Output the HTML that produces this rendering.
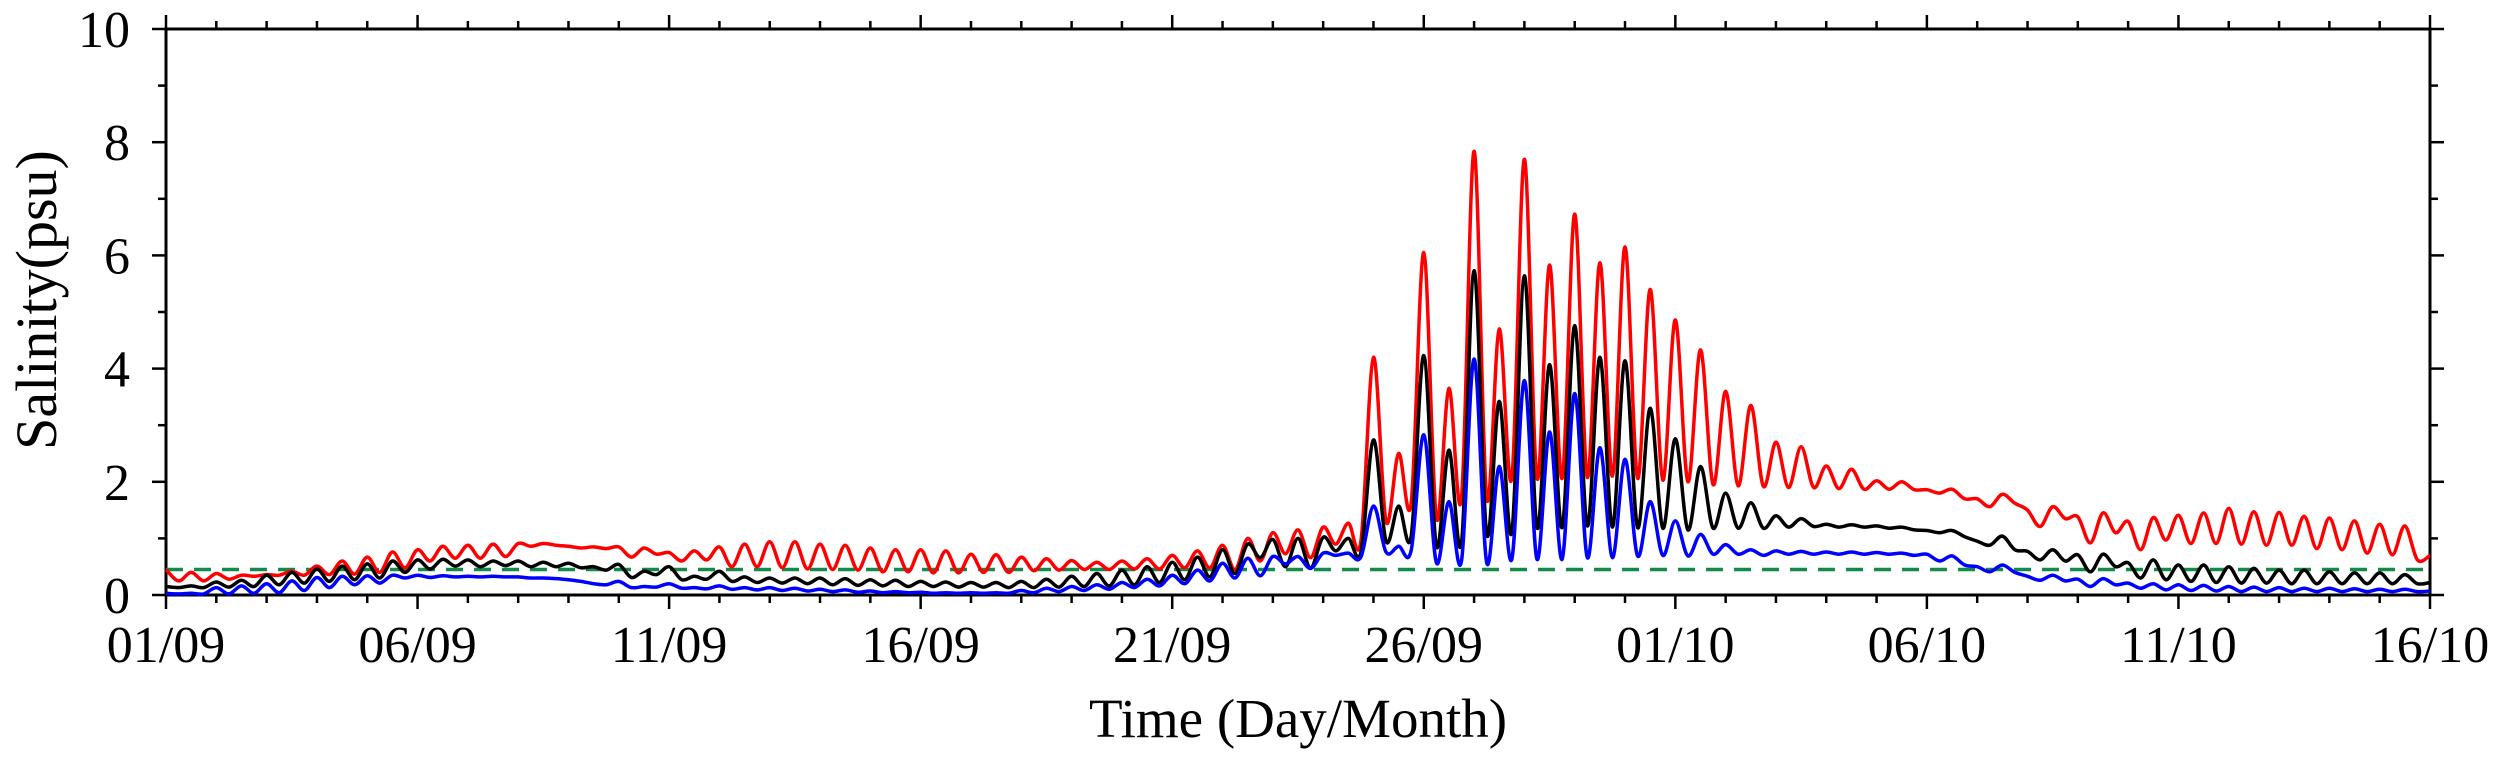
<!DOCTYPE html>
<html><head><meta charset="utf-8"><style>
html,body{margin:0;padding:0;background:#fff;}
svg{display:block;}
text{font-family:"Liberation Serif",serif;fill:#000;}
</style></head><body>
<svg id="chart" width="2500" height="762" viewBox="0 0 2500 762" xmlns="http://www.w3.org/2000/svg">
<g id="grid"></g>
<g id="series"></g>
<text x="1298" y="737" font-size="55" text-anchor="middle">Time (Day/Month)</text>
<text transform="translate(56,300) rotate(-90)" font-size="58" text-anchor="middle">Salinity(psu)</text>
</svg>
<script>
const xTickLabels = ["01/09","06/09","11/09","16/09","21/09","26/09","01/10","06/10","11/10","16/10"];
const yTickLabels = ["0","2","4","6","8","10"];
const threshold = 0.45;
const redHigh = [0.45,0.4,0.38,0.35,0.36,0.42,0.51,0.6,0.67,0.76,0.8,0.86,0.88,0.9,0.91,0.91,0.86,0.85,0.85,0.83,0.75,0.78,0.85,0.9,0.94,0.94,0.9,0.88,0.83,0.8,0.8,0.78,0.72,0.71,0.67,0.64,0.61,0.58,0.6,0.64,0.7,0.78,0.88,1.0,1.1,1.15,1.2,1.27,4.2,2.5,6.05,3.65,7.84,4.7,7.7,5.83,6.73,5.87,6.15,5.4,4.86,4.33,3.6,3.35,2.7,2.62,2.28,2.22,2.02,2.0,1.86,1.87,1.7,1.78,1.5,1.56,1.38,1.45,1.3,1.37,1.41,1.45,1.53,1.47,1.46,1.39,1.36,1.31,1.25,1.22];
const redLow = [0.25,0.25,0.28,0.33,0.35,0.35,0.36,0.37,0.4,0.48,0.6,0.65,0.65,0.68,0.86,0.88,0.83,0.82,0.67,0.72,0.6,0.62,0.5,0.5,0.48,0.46,0.45,0.44,0.41,0.41,0.39,0.39,0.4,0.4,0.43,0.44,0.45,0.45,0.46,0.46,0.48,0.48,0.45,0.6,0.73,0.66,0.9,0.95,1.3,1.63,1.36,1.71,1.71,2.06,2.06,2.06,2.08,2.1,2.06,2.03,2.0,1.95,1.93,1.92,1.9,1.9,1.88,1.87,1.87,1.86,1.8,1.7,1.56,1.62,1.21,1.35,0.92,1.1,0.8,0.97,0.91,0.91,0.9,0.88,0.88,0.82,0.8,0.74,0.71,0.62];
const blackHigh = [0.15,0.16,0.23,0.26,0.35,0.4,0.46,0.51,0.55,0.6,0.62,0.63,0.62,0.6,0.6,0.58,0.56,0.5,0.54,0.42,0.5,0.33,0.42,0.32,0.3,0.3,0.3,0.29,0.27,0.26,0.24,0.23,0.22,0.22,0.24,0.28,0.33,0.38,0.44,0.5,0.58,0.67,0.8,0.9,0.98,1.0,1.02,1.0,2.74,1.57,4.23,2.56,5.73,3.42,5.64,4.07,4.76,4.2,4.14,3.3,2.76,2.27,1.8,1.63,1.4,1.35,1.25,1.24,1.22,1.2,1.14,1.14,0.95,1.04,0.77,0.8,0.71,0.72,0.57,0.62,0.53,0.53,0.5,0.47,0.44,0.44,0.41,0.39,0.39,0.36];
const blackLow = [0.13,0.13,0.14,0.15,0.18,0.21,0.24,0.27,0.3,0.4,0.46,0.51,0.5,0.52,0.5,0.5,0.48,0.44,0.31,0.36,0.27,0.28,0.24,0.22,0.21,0.2,0.18,0.17,0.16,0.15,0.15,0.14,0.14,0.13,0.13,0.14,0.15,0.16,0.18,0.22,0.27,0.32,0.38,0.66,0.5,0.48,0.78,0.75,0.95,1.04,0.86,0.92,1.07,1.1,1.19,1.19,1.22,1.2,1.19,1.18,1.15,1.18,1.18,1.18,1.2,1.21,1.2,1.2,1.18,1.15,1.1,1.03,0.88,0.8,0.62,0.6,0.41,0.5,0.3,0.27,0.24,0.22,0.21,0.21,0.2,0.2,0.2,0.2,0.2,0.2];
const blueHigh = [0.03,0.03,0.13,0.16,0.2,0.25,0.31,0.33,0.34,0.35,0.35,0.34,0.33,0.33,0.32,0.3,0.27,0.2,0.24,0.15,0.2,0.13,0.16,0.13,0.13,0.12,0.1,0.09,0.07,0.06,0.05,0.04,0.04,0.04,0.08,0.12,0.15,0.18,0.22,0.28,0.35,0.44,0.56,0.65,0.68,0.68,0.74,0.74,1.57,0.86,2.83,1.65,4.17,2.27,3.79,2.88,3.56,2.6,2.4,1.65,1.31,1.07,0.89,0.8,0.78,0.77,0.76,0.76,0.75,0.74,0.72,0.69,0.5,0.53,0.33,0.35,0.28,0.29,0.21,0.2,0.18,0.17,0.15,0.14,0.13,0.12,0.12,0.11,0.1,0.1];
const blueLow = [0.02,0.02,0.02,0.03,0.04,0.08,0.13,0.18,0.21,0.3,0.31,0.32,0.32,0.32,0.3,0.29,0.24,0.18,0.13,0.14,0.12,0.11,0.1,0.09,0.08,0.07,0.06,0.05,0.04,0.04,0.03,0.03,0.03,0.03,0.04,0.06,0.08,0.1,0.13,0.16,0.2,0.25,0.3,0.34,0.55,0.47,0.7,0.67,0.76,0.79,0.57,0.6,0.57,0.63,0.63,0.63,0.66,0.66,0.69,0.7,0.69,0.72,0.72,0.7,0.72,0.72,0.72,0.72,0.72,0.7,0.6,0.53,0.41,0.4,0.26,0.25,0.15,0.18,0.12,0.09,0.08,0.07,0.06,0.06,0.06,0.06,0.06,0.06,0.06,0.06];
const endValues = {red:0.7, black:0.22, blue:0.07};

const NS = "http://www.w3.org/2000/svg";
const L = 166, R = 2430, T = 29, B = 595, DAYS = 45, YMAX = 10;
const xs = d => L + (R - L) * d / DAYS;
const ys = v => B - (B - T) * v / YMAX;
function mk(tag, attrs, parent) {
  const e = document.createElementNS(NS, tag);
  for (const k in attrs) e.setAttribute(k, attrs[k]);
  parent.appendChild(e);
  return e;
}
const grid = document.getElementById('grid');
const series = document.getElementById('series');

function pathFor(high, low, endV) {
  const pts = [];
  for (let i = 0; i < high.length; i++) {
    pts.push([xs(i / 2), ys(high[i])]);
    pts.push([xs(i / 2 + 0.25), ys(low[i])]);
  }
  pts.push([xs(DAYS), ys(endV)]);
  let d = "M" + pts[0][0].toFixed(1) + "," + pts[0][1].toFixed(1);
  for (let i = 0; i < pts.length - 1; i++) {
    const p0 = pts[Math.max(0, i - 1)], p1 = pts[i], p2 = pts[i + 1], p3 = pts[Math.min(pts.length - 1, i + 2)];
    const c1x = p1[0] + (p2[0] - p0[0]) / 6, c1y = p1[1] + (p2[1] - p0[1]) / 6;
    const c2x = p2[0] - (p3[0] - p1[0]) / 6, c2y = p2[1] - (p3[1] - p1[1]) / 6;
    d += "C" + c1x.toFixed(1) + "," + c1y.toFixed(1) + " " + c2x.toFixed(1) + "," + c2y.toFixed(1) + " " + p2[0].toFixed(1) + "," + p2[1].toFixed(1);
  }
  return d;
}
let e;
e = mk('line', {x1: L, x2: R, y1: ys(threshold), y2: ys(threshold), stroke: '#13894a', 'stroke-width': 3.5, 'stroke-dasharray': '17 11'}, series);


e = mk('path', {d: pathFor(redHigh, redLow, endValues.red), fill: 'none', stroke: '#ff0000', 'stroke-width': 3.5, 'stroke-linejoin': 'round'}, series);


e = mk('path', {d: pathFor(blackHigh, blackLow, endValues.black), fill: 'none', stroke: '#000000', 'stroke-width': 3.5, 'stroke-linejoin': 'round'}, series);


e = mk('path', {d: pathFor(blueHigh, blueLow, endValues.blue), fill: 'none', stroke: '#0000ff', 'stroke-width': 3.5, 'stroke-linejoin': 'round'}, series);



e = mk('rect', {x: L, y: T, width: R - L, height: B - T, fill: 'none', stroke: '#000', 'stroke-width': 3}, grid);


for (let d = 0; d <= DAYS; d++) {
  const major = d % 5 === 0, len = major ? 14 : 8, x = xs(d);
  e = mk('line', {x1: x, x2: x, y1: B, y2: B + len, stroke: '#000', 'stroke-width': 2.5}, grid);
  
  
  e = mk('line', {x1: x, x2: x, y1: T, y2: T - len, stroke: '#000', 'stroke-width': 2.5}, grid);
  
  
}
xTickLabels.forEach((s, i) => {
  e = mk('text', {x: xs(i * 5), y: 662, 'font-size': 52, 'text-anchor': 'middle'}, grid);
  e.textContent = s;
  
  
});
for (let v = 0; v <= YMAX; v++) {
  const major = v % 2 === 0, len = major ? 14 : 8, y = ys(v);
  e = mk('line', {x1: L, x2: L - len, y1: y, y2: y, stroke: '#000', 'stroke-width': 2.5}, grid);
  
  
  e = mk('line', {x1: R, x2: R + len, y1: y, y2: y, stroke: '#000', 'stroke-width': 2.5}, grid);
  
  
}
yTickLabels.forEach((s, i) => {
  e = mk('text', {x: 130, y: ys(i * 2) + 18, 'font-size': 52, 'text-anchor': 'end'}, grid);
  e.textContent = s;
  
  
});
</script>
</body></html>
